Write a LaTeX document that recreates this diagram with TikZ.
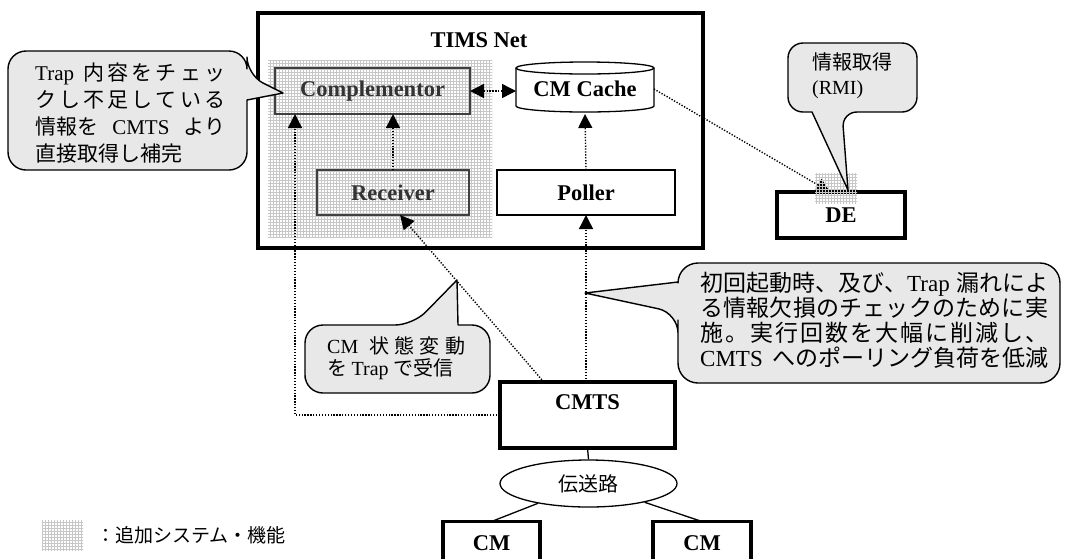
\documentclass[tikz,border=0pt]{standalone}
\usepackage{fontspec}
\setmainfont{Liberation Serif}
\newfontfamily\jp{Noto Sans CJK JP}
\usetikzlibrary{arrows.meta,patterns,calc,shapes.geometric}

% one line of callout text, spread evenly to a given width
\newcommand\jl[2]{\makebox[#1][s]{\foreach \chr [count=\idx] in {#2}{\ifnum\idx>1 \hfil\fi\chr}}}

\tikzset{
  lbl/.style={font=\bfseries\fontsize{22.5}{25}\selectfont, inner sep=0pt},
  thinbox/.style={draw, line width=1.3pt, inner sep=0pt, outer sep=0pt, font=\bfseries\fontsize{22.5}{25}\selectfont},
  heavybox/.style={draw, line width=3.6pt, inner sep=0pt, outer sep=0pt, font=\bfseries\fontsize{22.5}{25}\selectfont},
  addbox/.style={draw=black!75, line width=1.6pt, inner sep=0pt, outer sep=0pt, text=black!80, font=\bfseries\fontsize{22.5}{25}\selectfont},
  added/.style={pattern=grid, pattern color=black!22},
  dotline/.style={line width=1.4pt, dash pattern=on 1.3pt off 1.6pt},
  dotarrow/.style={dotline, ->},
  link/.style={line width=1.3pt},
  callout/.style={draw, line width=1.4pt, fill=black!9, line join=round},
  ctext/.style={font=\jp\fontsize{20}{27}\selectfont, align=left, inner sep=0pt, anchor=west},
}

\begin{document}
\begin{tikzpicture}[x=1pt, y=-1pt, >={Triangle[length=14pt,width=14pt]}]
\useasboundingbox (0,0) rectangle (1067,558);

% TIMS Net frame and the area of added functions
\node[heavybox, minimum width=445pt, minimum height=235pt] (tims) at (480.5,130.5) {};
\fill[added] (268,60) rectangle (492,237);
\node[lbl] (timslbl) at (479,40) {TIMS Net};

% components inside TIMS Net
\node[addbox, minimum width=195pt, minimum height=46pt] (comp) at (372.5,91) {Complementor};
\node[addbox, minimum width=152pt, minimum height=45pt] (recv) at (393,192.5) {Receiver};
\node[thinbox, minimum width=178pt, minimum height=45pt] (poller) at (586,192.5) {Poller};

% CM Cache drawn as a cylinder
\draw[link] (516,68) -- (516,106) arc[start angle=180, end angle=0, x radius=69, y radius=6] -- (654,68);
\draw[link] (585,68) ellipse[x radius=69, y radius=6];
\node[lbl, minimum width=138pt, minimum height=50pt, outer sep=0pt] (cache) at (585,89) {CM Cache};

% outside systems
\node[heavybox, minimum width=128pt, minimum height=46pt] (de) at (841,215) {DE};
\node[heavybox, minimum width=175pt, minimum height=66pt, align=center] (cmts) at (587.5,415) {CMTS\\\mbox{}};
\node[draw, link, ellipse, minimum width=177pt, minimum height=47pt, inner sep=0pt,
      font=\jp\fontsize{20}{24}\selectfont] (line) at (588.5,483.5) {伝送路};
\node[heavybox, minimum width=97pt, minimum height=44pt] (cm1) at (491.5,543.5) {CM};
\node[heavybox, minimum width=98pt, minimum height=44pt] (cm2) at (702,543.5) {CM};

% cable plant
\draw[link] (cmts.south) -- (line.north);
\draw[link] (line) -- (cm1.north);
\draw[link] (line) -- (cm2.north);

% message flows
\draw[dotline, <->] (comp.east) -- (comp.east -| cache.west);
\draw[dotarrow] (recv.north) -- (recv.north |- comp.south);
\draw[dotarrow] (poller.north) -- (cache.south);
\draw[dotarrow] (cmts.north -| poller.south) -- (poller.south);
\draw[dotarrow] ($(cmts.north west)!0.25!(cmts.north east)$) -- ($(recv.south)+(7,0)$);
\draw[dotarrow] (cmts.west) -| ($(comp.south west)+(20,0)$);
\draw[dotarrow] (cache.east) -- ($(de.north)+(-11,0)$);
\fill[added] (815,173) rectangle (857,203);

% callouts
\draw[callout] (8,120) [rounded corners=18pt] -- (8,51) -- (247,51) -- (247,75)
  [sharp corners] -- (283,93) -- (247,100) [rounded corners=18pt] -- (247,170) -- (8,170) -- cycle;
\node[ctext, font=\jp\fontsize{21}{27}\selectfont] (noteComp) at (35,113) {%
  \jl{190pt}{{{\rmfamily Trap}\hspace{6pt}},内,容,を,チ,ェ,ッ}\\
  \jl{190pt}{ク,し,不,足,し,て,い,る}\\
  \makebox[190pt][s]{情報を\hfil{\rmfamily CMTS}\hfil より}\\
  直接取得し補完};

\draw[callout] (850,43) [rounded corners=15pt] -- (917,43) -- (917,112) -- (842,112)
  [sharp corners] -- (848,190) -- (812,112) [rounded corners=15pt] -- (788,112) -- (788,43) -- cycle;
\node[ctext, font=\jp\fontsize{20}{25}\selectfont] (noteDE) at (812,76) {情報取得\\{\rmfamily (RMI)}};

\draw[callout] (305,360) [rounded corners=18pt] -- (305,325) -- (413,325)
  [sharp corners] -- (457,280) -- (458,325) [rounded corners=18pt] -- (490,325) -- (490,393) -- (305,393) -- cycle;
\node[ctext, font=\jp\fontsize{20}{21.5}\selectfont] (noteTrap) at (327,358) {%
  \makebox[138pt][s]{{\rmfamily CM}\hfil\hfil 状\hfil 態\hfil 変\hfil 動}\\
  を {\rmfamily Trap} で受信};

\draw[callout] (678,340) [rounded corners=20pt] -- (678,313) [sharp corners] -- (585,293) -- (678,282)
  [rounded corners=20pt] -- (678,263) -- (1060,263) -- (1060,383) -- (678,383) -- cycle;
\node[ctext, font=\jp\fontsize{23}{25}\selectfont] (notePoll) at (700,320) {%
  \makebox[348pt][s]{初回起動時、及び、{\rmfamily Trap}\hfil 漏れによ}\\
  \jl{348pt}{る,情,報,欠,損,の,チ,ェ,ッ,ク,の,た,め,に,実}\\
  \jl{348pt}{施,。,実,行,回,数,を,大,幅,に,削,減,し,、}\\
  \makebox[348pt][s]{{\rmfamily CMTS}\hfil へのポーリング負荷を低減}};

% legend
\fill[added] (42,520) rectangle (83,550);
\node[ctext, font=\jp\fontsize{19}{22}\selectfont] (legend) at (96,535) {：追加システム・機能};
\end{tikzpicture}
\end{document}
